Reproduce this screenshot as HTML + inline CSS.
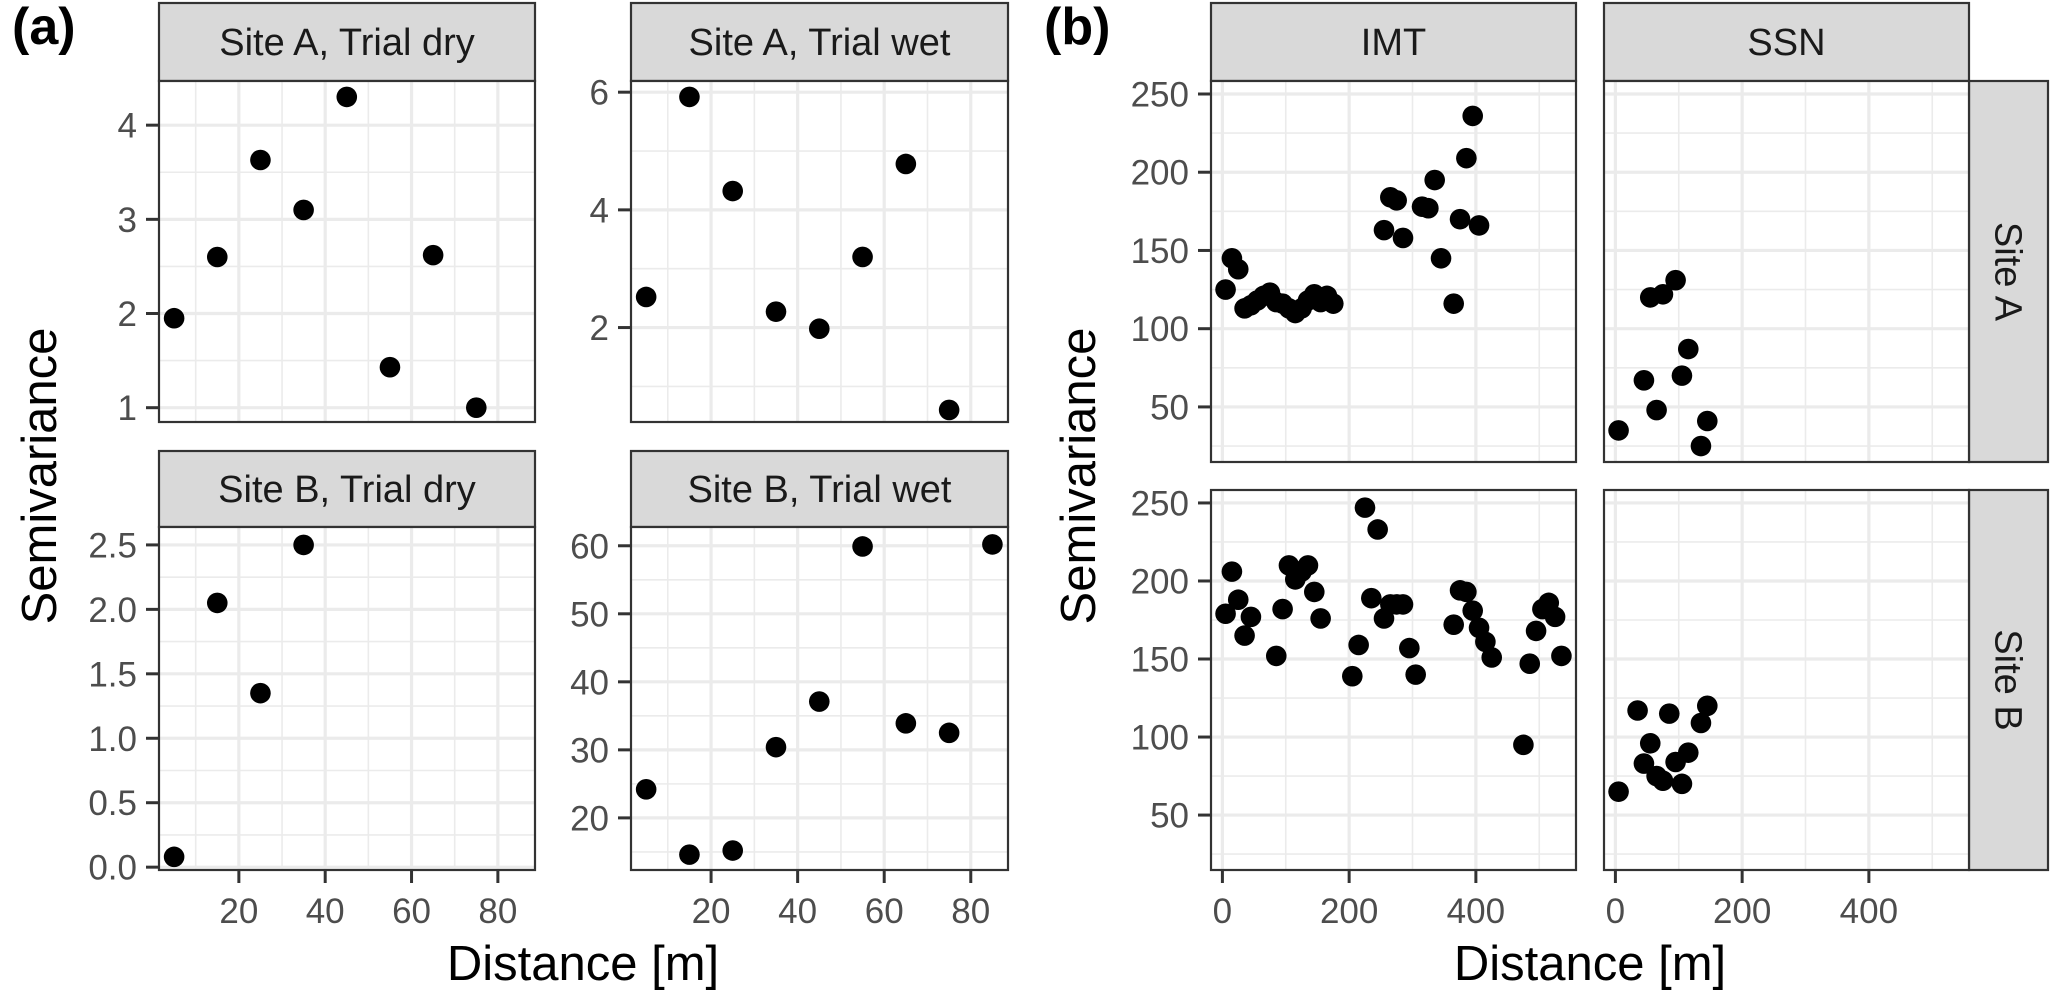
<!DOCTYPE html>
<html><head><meta charset="utf-8">
<style>
html,body{margin:0;padding:0;background:#fff;}
svg{display:block;}
text{font-family:"Liberation Sans",Arial,sans-serif;}
</style></head>
<body>
<svg id="chart" width="2067" height="991" viewBox="0 0 2067 991" xmlns="http://www.w3.org/2000/svg"></svg>
<script>
// ---- data: panel (a) ----
const aDistances = [5,15,25,35,45,55,65,75,85];
const aSiteADry = [1.95,2.6,3.63,3.1,4.3,1.43,2.62,1.0];
const aSiteAWet = [2.52,5.92,4.32,2.27,1.98,3.2,4.78,0.6];
const aSiteBDry = [0.08,2.05,1.35,2.5];
const aSiteBWet = [24.2,14.6,15.2,30.4,37.1,59.9,33.9,32.5,60.2];
const aXTicks = [20,40,60,80];
const aYTicksADry = [1,2,3,4];
const aYTicksAWet = [2,4,6];
const aYTicksBDry = [0,0.5,1,1.5,2,2.5];
const aYTicksBWet = [20,30,40,50,60];
// ---- data: panel (b) ----
const imtADist = [5,15,25,35,45,55,65,75,85,95,105,115,125,135,145,155,165,175,255,265,275,285,315,325,335,345,365,375,385,395,405];
const imtAVal  = [125,145,138,113,115,118,121,123,117,116,113,110,113,118,122,117,121,116,163,184,182,158,178,177,195,145,116,170,209,236,166];
const ssnADist = [5,45,55,65,75,95,105,115,135,145];
const ssnAVal  = [35,67,120,48,122,131,70,87,25,41];
const imtBDist = [5,15,25,35,45,85,95,105,115,125,135,145,155,205,215,225,235,245,255,265,275,285,295,305,365,375,385,395,405,415,425,475,485,495,505,515,525,535];
const imtBVal  = [179,206,188,165,177,152,182,210,201,206,210,193,176,139,159,247,189,233,176,185,185,185,157,140,172,194,193,181,170,161,151,95,147,168,182,186,177,152];
const ssnBDist = [5,35,45,55,65,75,85,95,105,115,135,145];
const ssnBVal  = [65,117,83,96,75,72,115,84,70,90,109,120];
const bXTicks = [0,200,400];
const bYTicks = [50,100,150,200,250];

const NS="http://www.w3.org/2000/svg";
const svg=document.getElementById('chart');
function el(tag,attrs,parent){const e=document.createElementNS(NS,tag);for(const k in attrs)e.setAttribute(k,attrs[k]);(parent||svg).appendChild(e);return e;}
function txt(s,attrs,parent){const e=el('text',attrs,parent);e.textContent=s;return e;}
function scale(d0,d1,r0,r1){return v=>r0+(v-d0)/(d1-d0)*(r1-r0);}
function fmt(v,dec){return dec?v.toFixed(dec):String(v);}

function panel(o){
  const g=el('g',{});
  
  
  const sx=scale(o.xd[0],o.xd[1],o.x0,o.x1), sy=scale(o.yd[0],o.yd[1],o.y1,o.y0);
  el('rect',{x:o.x0,y:o.y0,width:o.x1-o.x0,height:o.y1-o.y0,fill:'#fff'},g);
  const xs=o.xt, ys=o.yt;
  const xstep=xs[1]-xs[0], ystep=ys[1]-ys[0];
  for(let v=xs[0]-xstep*1.5; v<=o.xd[1]; v+=xstep){ if(v>=o.xd[0]) el('line',{x1:sx(v),x2:sx(v),y1:o.y0,y2:o.y1,stroke:'#ebebeb','stroke-width':1.6},g);}
  for(let v=ys[0]-ystep*1.5; v<=o.yd[1]; v+=ystep){ if(v>=o.yd[0]) el('line',{x1:o.x0,x2:o.x1,y1:sy(v),y2:sy(v),stroke:'#ebebeb','stroke-width':1.6},g);}
  xs.forEach(v=>el('line',{x1:sx(v),x2:sx(v),y1:o.y0,y2:o.y1,stroke:'#ebebeb','stroke-width':3.2},g));
  ys.forEach(v=>el('line',{x1:o.x0,x2:o.x1,y1:sy(v),y2:sy(v),stroke:'#ebebeb','stroke-width':3.2},g));
  o.px.forEach((x,i)=>{
    const c=el('circle',{cx:sx(x),cy:sy(o.py[i]),r:10.3,fill:'#000'},g);
    
    
  });
  el('rect',{x:o.x0,y:o.y0,width:o.x1-o.x0,height:o.y1-o.y0,fill:'none',stroke:'#333','stroke-width':2.2},g);
  if(o.showY){ys.forEach(v=>{
    el('line',{x1:o.x0-13,x2:o.x0,y1:sy(v),y2:sy(v),stroke:'#333','stroke-width':3},g);
    const t=txt(fmt(v,o.ydec),{x:o.x0-22,y:sy(v)+12.5,'text-anchor':'end','font-size':35,fill:'#4d4d4d'},g);
    
    
  });}
  if(o.showX){xs.forEach(v=>{
    el('line',{x1:sx(v),x2:sx(v),y1:o.y1,y2:o.y1+13,stroke:'#333','stroke-width':3},g);
    const t=txt(String(v),{x:sx(v),y:o.y1+53,'text-anchor':'middle','font-size':35,fill:'#4d4d4d'},g);
    
    
  });}
  return g;
}
function strip(x0,x1,y0,y1,label,name,vertical){
  const g=el('g',{});
  
  
  el('rect',{x:x0,y:y0,width:x1-x0,height:y1-y0,fill:'#d9d9d9',stroke:'#333','stroke-width':2.2},g);
  if(vertical){
    const cx=(x0+x1)/2-13, cy=(y0+y1)/2;
    txt(label,{x:cx,y:cy,'text-anchor':'middle','font-size':38,fill:'#1a1a1a',transform:`rotate(90 ${cx} ${cy})`},g);
  } else {
    txt(label,{x:(x0+x1)/2,y:(y0+y1)/2+13,'text-anchor':'middle','font-size':38,fill:'#1a1a1a'},g);
  }
}

const axd=[1.5,88.6];
strip(159,535,3,81,'Site A, Trial dry','strip-site-a-dry');
panel({name:'panel-site-a-dry',x0:159,x1:535,y0:81,y1:422,xd:axd,yd:[0.848,4.469],xt:aXTicks,yt:aYTicksADry,px:aDistances.slice(0,aSiteADry.length),py:aSiteADry,showY:true,showX:false});
strip(631,1008,3,81,'Site A, Trial wet','strip-site-a-wet');
panel({name:'panel-site-a-wet',x0:631,x1:1008,y0:81,y1:422,xd:axd,yd:[0.395,6.19],xt:aXTicks,yt:aYTicksAWet,px:aDistances.slice(0,aSiteAWet.length),py:aSiteAWet,showY:true,showX:false});
strip(159,535,451,527,'Site B, Trial dry','strip-site-b-dry');
panel({name:'panel-site-b-dry',x0:159,x1:535,y0:527,y1:870,xd:axd,yd:[-0.022,2.639],xt:aXTicks,yt:aYTicksBDry,ydec:1,px:aDistances.slice(0,aSiteBDry.length),py:aSiteBDry,showY:true,showX:true});
strip(631,1008,451,527,'Site B, Trial wet','strip-site-b-wet');
panel({name:'panel-site-b-wet',x0:631,x1:1008,y0:527,y1:870,xd:axd,yd:[12.34,62.76],xt:aXTicks,yt:aYTicksBWet,px:aDistances.slice(0,aSiteBWet.length),py:aSiteBWet,showY:true,showX:true});

const bxd=[-18,558], byd=[14.8,258.3];
strip(1211,1576,3,81,'IMT','strip-imt');
strip(1604,1969,3,81,'SSN','strip-ssn');
strip(1969,2048,81,462,'Site A','strip-site-a',true);
strip(1969,2048,490,870,'Site B','strip-site-b',true);
panel({name:'panel-imt-site-a',x0:1211,x1:1576,y0:81,y1:462,xd:bxd,yd:byd,xt:bXTicks,yt:bYTicks,px:imtADist,py:imtAVal,showY:true,showX:false});
panel({name:'panel-ssn-site-a',x0:1604,x1:1969,y0:81,y1:462,xd:bxd,yd:byd,xt:bXTicks,yt:bYTicks,px:ssnADist,py:ssnAVal,showY:false,showX:false});
panel({name:'panel-imt-site-b',x0:1211,x1:1576,y0:490,y1:870,xd:bxd,yd:byd,xt:bXTicks,yt:bYTicks,px:imtBDist,py:imtBVal,showY:true,showX:true});
panel({name:'panel-ssn-site-b',x0:1604,x1:1969,y0:490,y1:870,xd:bxd,yd:byd,xt:bXTicks,yt:bYTicks,px:ssnBDist,py:ssnBVal,showY:false,showX:true});

let t;
t=txt('(a)',{x:12,y:44,'font-size':52,'font-weight':'bold',fill:'#000'});


t=txt('(b)',{x:1044,y:44,'font-size':52,'font-weight':'bold',fill:'#000'});


t=txt('Distance [m]',{x:583,y:980,'text-anchor':'middle','font-size':49,fill:'#000'});


t=txt('Semivariance',{x:56,y:476,'text-anchor':'middle','font-size':49,fill:'#000',transform:'rotate(-90 56 476)'});


t=txt('Distance [m]',{x:1590,y:980,'text-anchor':'middle','font-size':49,fill:'#000'});


t=txt('Semivariance',{x:1095,y:476,'text-anchor':'middle','font-size':49,fill:'#000',transform:'rotate(-90 1095 476)'});


</script>
</body></html>
